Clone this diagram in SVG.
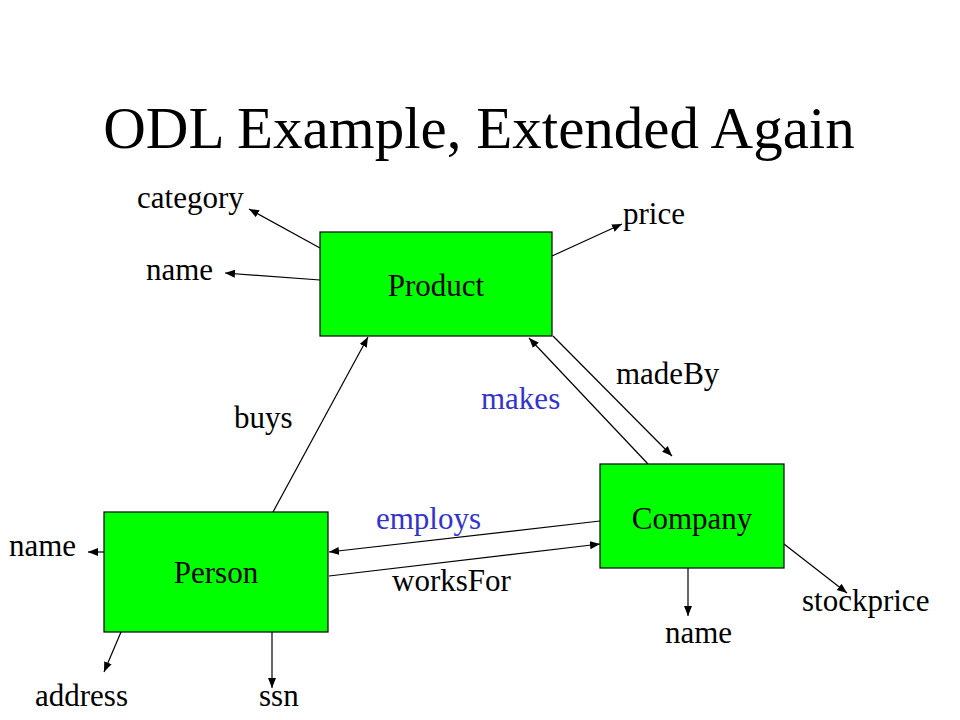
<svg xmlns="http://www.w3.org/2000/svg" width="960" height="720" viewBox="0 0 960 720">
<defs>
<marker id="ah" viewBox="0 0 10 10" refX="10" refY="5" markerWidth="10" markerHeight="10" markerUnits="userSpaceOnUse" orient="auto">
<path d="M0,1 L10,5 L0,9 z" fill="#000"/>
</marker>
<style>
.box{fill:#00ff00;stroke:#000;stroke-width:1.2}
.t{font-family:"Liberation Serif","Times New Roman","DejaVu Serif",serif;font-size:31px;fill:#000}
.b{fill:#3333cc}
.c{stroke:#000;stroke-width:1.2;fill:none;marker-end:url(#ah)}
</style>
</defs>
<rect width="960" height="720" fill="#fff"/>
<text x="479" y="148" text-anchor="middle" style="font-family:'Liberation Serif','Times New Roman','DejaVu Serif',serif;font-size:59px">ODL Example, Extended Again</text>
<g id="connectors">
<line class="c" x1="320" y1="248" x2="249" y2="209"/>
<line class="c" x1="320" y1="280" x2="225" y2="273"/>
<line class="c" x1="552" y1="256" x2="622" y2="224"/>
<line class="c" x1="273" y1="512" x2="368" y2="337"/>
<line class="c" x1="648" y1="464" x2="529" y2="338"/>
<line class="c" x1="553" y1="336" x2="672" y2="456"/>
<line class="c" x1="600" y1="521" x2="329" y2="552"/>
<line class="c" x1="329" y1="576" x2="600" y2="544"/>
<line class="c" x1="104" y1="552" x2="88" y2="552"/>
<line class="c" x1="121" y1="632" x2="104" y2="672"/>
<line class="c" x1="272" y1="632" x2="272" y2="688"/>
<line class="c" x1="688" y1="568" x2="688" y2="616"/>
<line class="c" x1="784" y1="544" x2="847" y2="593"/>
</g>
<g id="product"><rect class="box" x="320" y="232" width="232" height="104"/><text class="t" x="436" y="296" text-anchor="middle">Product</text></g>
<g id="person"><rect class="box" x="104" y="512" width="224" height="120"/><text class="t" x="216" y="583" text-anchor="middle">Person</text></g>
<g id="company"><rect class="box" x="600" y="464" width="184" height="104"/><text class="t" x="692" y="529" text-anchor="middle">Company</text></g>
<g id="labels">
<text class="t" x="137" y="208">category</text>
<text class="t" x="146" y="280">name</text>
<text class="t" x="623" y="224">price</text>
<text class="t" x="616" y="384">madeBy</text>
<text class="t b" x="481" y="409">makes</text>
<text class="t" x="234" y="428">buys</text>
<text class="t b" x="376" y="529">employs</text>
<text class="t" x="9" y="556">name</text>
<text class="t" x="392" y="591">worksFor</text>
<text class="t" x="802" y="611">stockprice</text>
<text class="t" x="665" y="643">name</text>
<text class="t" x="35" y="706">address</text>
<text class="t" x="259" y="706">ssn</text>
</g>
</svg>
